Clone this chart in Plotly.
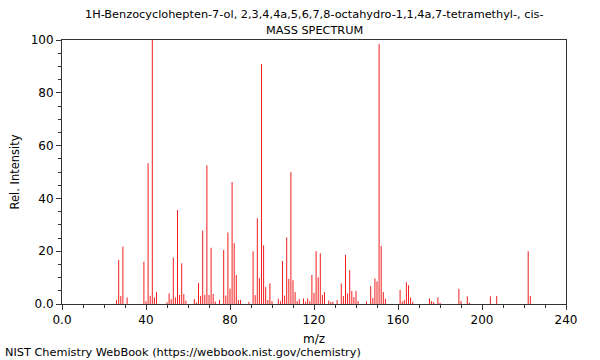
import plotly.graph_objects as go

title_line1 = "1H-Benzocyclohepten-7-ol, 2,3,4,4a,5,6,7,8-octahydro-1,1,4a,7-tetramethyl-, cis-"
title_line2 = "MASS SPECTRUM"
footer = "NIST Chemistry WebBook (https://webbook.nist.gov/chemistry)"

mz = [26, 27, 28, 29, 31, 39, 40, 41, 42, 43, 44, 45, 50, 51, 52, 53, 54, 55, 56, 57,
      58, 59, 63, 64, 65, 66, 67, 68, 69, 70, 71, 72, 73, 75, 77, 78, 79, 80, 81, 82,
      83, 84, 85, 89, 91, 92, 93, 94, 95, 96, 97, 98, 99, 100, 103, 104, 105, 106, 107, 108,
      109, 110, 111, 112, 113, 115, 116, 117, 118, 119, 120, 121, 122, 123, 124, 125, 127, 128, 129, 131,
      133, 134, 135, 136, 137, 138, 139, 140, 141, 145, 147, 148, 149, 150, 151, 152, 153, 154, 161, 162,
      163, 164, 165, 166, 167, 175, 176, 177, 179, 180, 189, 190, 193, 194, 204, 207, 222, 223]

intensity = [1.5, 16.7, 3.0, 21.7, 2.5, 16.0, 1.0, 53.3, 3.1, 100.0, 2.5, 4.5, 0.7, 4.0, 1.8, 17.6, 2.5, 35.6, 3.4, 15.4,
             3.7, 1.3, 1.9, 0.6, 8.0, 3.0, 27.8, 3.5, 52.5, 3.4, 21.3, 3.8, 0.9, 1.6, 20.5, 3.2, 27.1, 5.8, 46.2, 23.1,
             11.0, 1.5, 1.5, 0.8, 20.0, 3.3, 32.5, 9.8, 90.9, 22.2, 6.4, 1.5, 7.8, 1.1, 2.0, 1.1, 16.3, 3.2, 25.2, 9.5,
             49.9, 9.0, 4.5, 1.1, 1.8, 2.1, 0.9, 2.1, 1.1, 11.0, 4.2, 20.0, 10.1, 19.2, 3.4, 4.5, 1.3, 0.8, 0.8, 1.5,
             7.8, 3.0, 18.6, 4.0, 12.8, 4.9, 2.6, 5.0, 1.1, 1.0, 6.8, 2.3, 9.7, 8.6, 98.5, 22.0, 4.5, 2.0, 5.3, 1.0,
             1.5, 8.3, 7.1, 2.5, 0.8, 2.1, 1.1, 0.7, 2.5, 0.5, 5.7, 1.1, 2.9, 0.5, 2.9, 3.0, 20.0, 3.0]

x_ticks = [0, 40, 80, 120, 160, 200, 240]
x_tick_labels = ["0.0", "40", "80", "120", "160", "200", "240"]
y_ticks = [0, 20, 40, 60, 80, 100]
y_tick_labels = ["0.0", "20", "40", "60", "80", "100"]

L, T, R, B = 62, 40, 34, 56
W, H = 600, 360

# stick spectrum: one vertical line per peak, built from the data arrays
xs, ys = [], []
for m, v in zip(mz, intensity):
    xs += [m, m, None]
    ys += [0, v, None]

fig = go.Figure()
fig.add_trace(go.Scatter(
    x=xs, y=ys, mode="lines",
    line=dict(color="rgb(240,30,30)", width=1),
    hoverinfo="skip",
))

font = "DejaVu Sans, sans-serif"
axis_common = dict(
    showgrid=False, zeroline=False, showline=True, linecolor="#333", linewidth=1,
    mirror=True, ticks="outside", ticklen=5, tickcolor="#333",
    tickfont=dict(family=font, size=12, color="#000"),
)

fig.update_layout(
    width=W, height=H,
    margin=dict(l=L, r=R, t=T, b=B),
    paper_bgcolor="white", plot_bgcolor="white",
    showlegend=False,
    font=dict(family=font, color="#000"),
    xaxis=dict(range=[0, 240], tickvals=x_ticks, ticktext=x_tick_labels,
               minor=dict(dtick=10, ticks="outside", ticklen=3, tickcolor="#333"),
               title=dict(text="m/z", font=dict(family=font, size=12), standoff=8),
               **axis_common),
    yaxis=dict(range=[0, 100], tickvals=y_ticks, ticktext=y_tick_labels,
               minor=dict(dtick=5, ticks="outside", ticklen=3, tickcolor="#333"),
               title=dict(text="Rel. Intensity", font=dict(family=font, size=11.5), standoff=8),
               **axis_common),
)

pw, ph = W - L - R, H - T - B
def ann(text, px, py, anchor="center", size=11.3):
    fig.add_annotation(text=text, x=(px - L) / pw, y=1 - (py - T) / ph,
                       xref="paper", yref="paper", showarrow=False,
                       font=dict(family=font, size=size), xanchor=anchor, yanchor="middle")

ann(title_line1, 314, 14)
ann(title_line2, 314, 30)
ann(footer, 3, 352, anchor="left", size=11.3)

fig.write_html("out.html", config={"displayModeBar": False},
               post_script="document.body.style.margin='0';")
